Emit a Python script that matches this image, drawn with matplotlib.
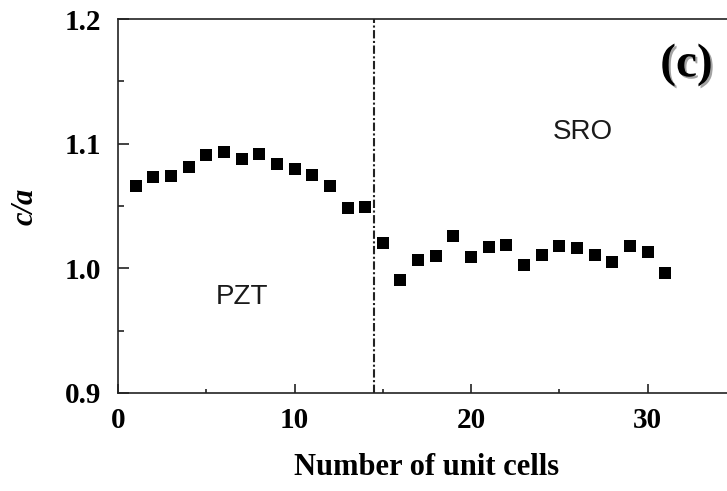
import numpy as np
import matplotlib
matplotlib.use("Agg")
import matplotlib.pyplot as plt
import matplotlib.patheffects as pe
from matplotlib.ticker import MultipleLocator

# c/a ratio per unit cell (PZT layers 1-14, SRO layers 15-31)
cells = np.arange(1, 32)
ca = [1.066, 1.073, 1.074, 1.081, 1.091, 1.093, 1.088, 1.092, 1.084, 1.080,
      1.075, 1.066, 1.048, 1.049,
      1.020, 0.991, 1.007, 1.010, 1.026, 1.009, 1.017, 1.019, 1.003, 1.011,
      1.018, 1.016, 1.011, 1.005, 1.018, 1.013, 0.996]
interface = 14.5

fig = plt.figure(figsize=(7.27, 4.91), dpi=100)
ax = fig.add_axes([0.1623, 0.1996, 0.850, 0.7617])

ax.plot(cells, ca, 's', color='black', markersize=8.5, markeredgewidth=0)
ax.axvline(interface, color='#222222', lw=1.5, ls=(0, (4, 1.2, 1, 1.2)))

ax.set_xlim(0, 35)
ax.set_ylim(0.9, 1.2)
ax.xaxis.set_major_locator(MultipleLocator(10))
ax.xaxis.set_minor_locator(MultipleLocator(5))
ax.yaxis.set_major_locator(MultipleLocator(0.1))
ax.yaxis.set_minor_locator(MultipleLocator(0.05))
ax.set_yticks([0.9, 1.0, 1.1, 1.2])
ax.set_yticklabels(['0.9', '1.0', '1.1', '1.2'])

ax.spines['right'].set_visible(False)
for s in ax.spines.values():
    s.set_linewidth(1.2)
    s.set_color('#222222')

ax.tick_params(axis='both', which='both', direction='in', top=False, right=False,
               color='#222222', width=1.2)
ax.tick_params(axis='y', which='major', length=8, pad=12)
ax.tick_params(axis='y', which='minor', length=4)
ax.tick_params(axis='x', which='major', length=6.5, pad=10)
ax.tick_params(axis='x', which='minor', length=3)
for lab in ax.get_xticklabels() + ax.get_yticklabels():
    lab.set_fontfamily('Liberation Serif')
    lab.set_fontweight('bold')
    lab.set_fontsize(21)

ax.set_xlabel('Number of unit cells', fontfamily='Liberation Serif',
              fontweight='bold', fontsize=22, labelpad=14)
ax.set_ylabel('c/a', fontfamily='Liberation Serif', fontstyle='italic',
              fontweight='bold', fontsize=22, labelpad=18)

ax.text(7.0, 0.977, 'PZT', fontfamily='Liberation Sans', fontsize=20,
        color='#1a1a1a', ha='center', va='center')
ax.text(26.3, 1.109, 'SRO', fontfamily='Liberation Sans', fontsize=20,
        color='#1a1a1a', ha='center', va='center')
ax.text(32.2, 1.163, '(c)', fontfamily='Liberation Serif', fontweight='bold',
        fontsize=34, ha='center', va='center',
        path_effects=[pe.withSimplePatchShadow(offset=(1.5, -1.5),
                                               shadow_rgbFace='#999999', alpha=0.9)])

fig.savefig('out.png', dpi=100)
